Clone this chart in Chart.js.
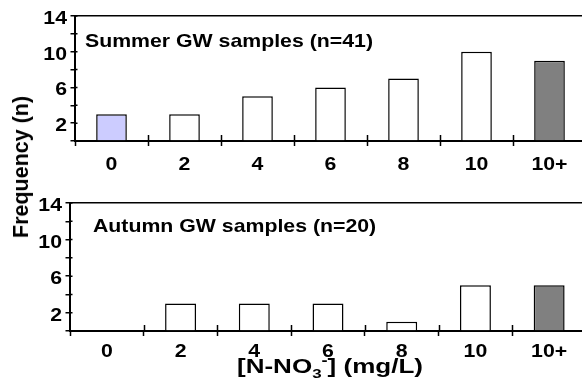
<!DOCTYPE html>
<html>
<head>
<meta charset="utf-8">
<script src="https://cdn.jsdelivr.net/npm/chart.js@4.4.0/dist/chart.umd.min.js"></script>
<style>
  body { margin: 0; width: 582px; height: 385px; overflow: hidden; position: relative; background: #fff; }
  canvas { position: absolute; left: 0; }
  #ytitle {
    position: absolute; left: 21px; top: 167px;
    transform: translate(-50%, -50%) rotate(-90deg);
    font: bold 21.5px "Liberation Sans", Arial, sans-serif;
    line-height: 24px; white-space: nowrap; color: #000;
  }
</style>
</head>
<body>
<canvas id="summerChart" width="590" height="190" style="top:0"></canvas>
<canvas id="autumnChart" width="590" height="195" style="top:190px"></canvas>
<div id="ytitle">Frequency (n)</div>
<script>
// nitrate classes (mg/L) and sample counts per class
const categories = ['0', '2', '4', '6', '8', '10', '10+'];
const summerCounts = [3, 3, 5, 6, 7, 10, 9];
const autumnCounts = [0, 3, 3, 3, 1, 5, 5];
const yTickLabels = [2, 6, 10, 14];

const summerColors = ['#ccccff', '#ffffff', '#ffffff', '#ffffff', '#ffffff', '#ffffff', '#808080'];
const autumnColors = ['#ffffff', '#ffffff', '#ffffff', '#ffffff', '#ffffff', '#ffffff', '#808080'];

const FONT = '"Liberation Sans", Arial, sans-serif';

function drawStretched(ctx, text, x, y, size, sx, align) {
  ctx.save();
  ctx.font = 'bold ' + size + 'px ' + FONT;
  ctx.fillStyle = '#000';
  ctx.textAlign = align || 'left';
  ctx.textBaseline = 'alphabetic';
  ctx.translate(x, y);
  ctx.scale(sx, 1);
  ctx.fillText(text, 0, 0);
  ctx.restore();
}

// [N-NO3-] (mg/L) with sub/superscript, squeezed into the reference width
function drawXTitle(ctx, left, baseline, width) {
  const parts = [
    { t: '[N-NO', s: 20, dy: 0 },
    { t: '3', s: 13, dy: 5 },
    { t: '-', s: 14, dy: -8 },
    { t: '] (mg/L)', s: 20, dy: 0 }
  ];
  let total = 0;
  parts.forEach(p => {
    ctx.font = 'bold ' + p.s + 'px ' + FONT;
    p.w = ctx.measureText(p.t).width;
    total += p.w;
  });
  const sx = width / total;
  let x = left;
  parts.forEach(p => {
    drawStretched(ctx, p.t, x, baseline + p.dy, p.s, sx, 'left');
    x += p.w * sx;
  });
}

const panelText = {
  id: 'panelText',
  afterDraw(chart, args, o) {
    const ctx = chart.ctx;
    const xs = chart.scales.x;
    const ys = chart.scales.y;

    // inner halves of the tick marks (ticks cross the axes in the original)
    ctx.save();
    ctx.strokeStyle = '#000';
    ctx.lineWidth = 1.5;
    ctx.beginPath();
    const step = xs.width / categories.length;
    for (let i = 1; i <= categories.length; i++) {
      const px = Math.round(xs.left + i * step) + 0.5;
      ctx.moveTo(px, xs.top);
      ctx.lineTo(px, xs.top - 6);
    }
    for (let v = 2; v <= 14; v += 2) {
      const py = ys.getPixelForValue(v);
      ctx.moveTo(ys.right, py);
      ctx.lineTo(ys.right + 2.5, py);
    }
    ctx.stroke();
    ctx.restore();

    yTickLabels.forEach(v => {
      drawStretched(ctx, String(v), ys.right - 8, ys.getPixelForValue(v) + 8, 18, 1.18, 'right');
    });
    categories.forEach((c, i) => {
      drawStretched(ctx, c, xs.getPixelForTick(i), xs.top + o.labelDy, 19, 1.12, 'center');
    });
    drawStretched(ctx, o.title, o.titleX, o.titleY, 19, 1.12, 'left');
    if (o.axisTitle) drawXTitle(ctx, 237, 183, 186);
  }
};

function makePanel(id, counts, colors, cfg) {
  return new Chart(document.getElementById(id), {
    type: 'bar',
    data: {
      labels: categories,
      datasets: [{
        data: counts,
        backgroundColor: colors,
        borderColor: '#000',
        borderWidth: 1.5,
        barPercentage: 0.42,
        categoryPercentage: 1
      }]
    },
    options: {
      responsive: false,
      animation: false,
      layout: { padding: { top: cfg.top, right: 4, left: 0, bottom: 0 } },
      plugins: {
        legend: { display: false },
        tooltip: { enabled: false },
        panelText: cfg.text
      },
      scales: {
        x: {
          grid: { offset: true, drawOnChartArea: false, tickLength: 5, tickColor: '#000', tickWidth: 1.5 },
          border: { color: '#000', width: 2 },
          ticks: { display: false },
          afterFit: s => { s.height = cfg.xHeight; }
        },
        y: {
          min: 0,
          max: 14,
          ticks: { stepSize: 2, display: false },
          grid: {
            color: c => (c.tick && c.tick.value === 14) ? '#000' : 'rgba(0,0,0,0)',
            tickColor: '#000',
            tickLength: 4.5,
            lineWidth: 1.5,
            tickWidth: 1.5
          },
          border: { color: '#000', width: 2 },
          afterFit: s => { s.width = cfg.yWidth; }
        }
      }
    },
    plugins: [panelText]
  });
}

makePanel('summerChart', summerCounts, summerColors, {
  top: 16, xHeight: 49, yWidth: 75,
  text: { title: 'Summer GW samples (n=41)', titleX: 85, titleY: 47, labelDy: 29 }
});

makePanel('autumnChart', autumnCounts, autumnColors, {
  top: 13, xHeight: 54, yWidth: 70,
  text: { title: 'Autumn GW samples (n=20)', titleX: 93, titleY: 42, labelDy: 26, axisTitle: true }
});
</script>
</body>
</html>
